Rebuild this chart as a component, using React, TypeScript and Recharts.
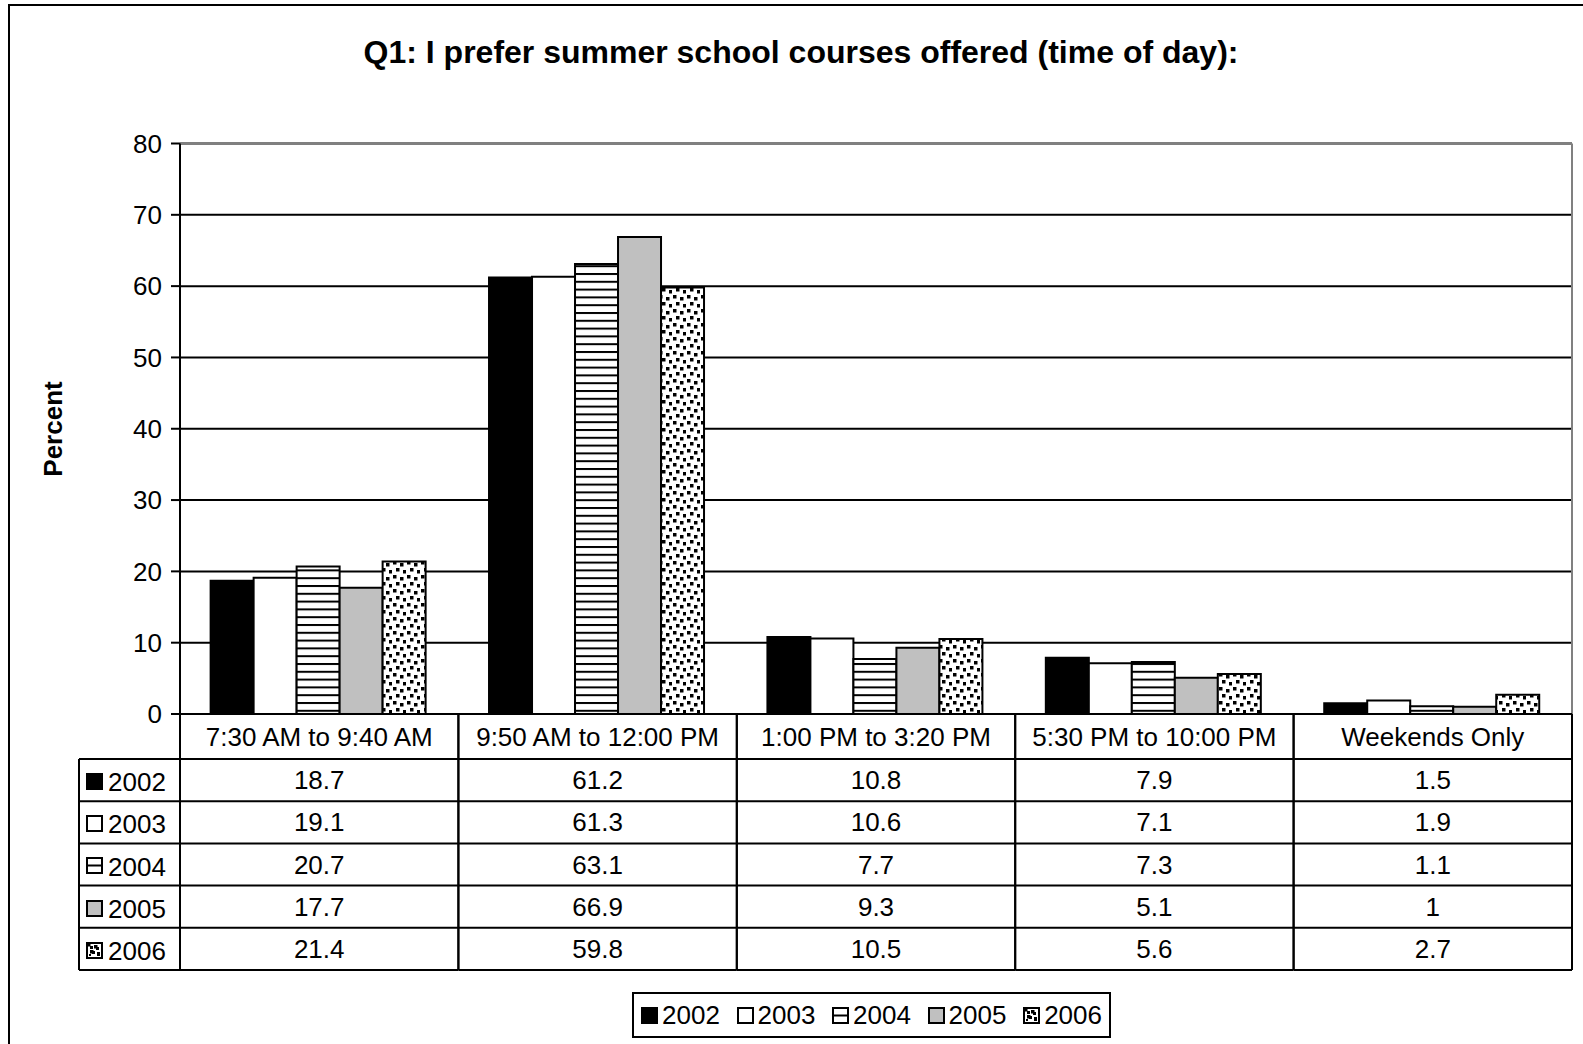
import { Bar, BarChart, CartesianGrid, Legend, XAxis, YAxis } from 'recharts'

const CATEGORIES = ['7:30 AM to 9:40 AM', '9:50 AM to 12:00 PM', '1:00 PM to 3:20 PM', '5:30 PM to 10:00 PM', 'Weekends Only']
const YEARS = ['2002', '2003', '2004', '2005', '2006']

const V2002 = [18.7, 61.2, 10.8, 7.9, 1.5]
const V2003 = [19.1, 61.3, 10.6, 7.1, 1.9]
const V2004 = [20.7, 63.1, 7.7, 7.3, 1.1]
const V2005 = [17.7, 66.9, 9.3, 5.1, 1]
const V2006 = [21.4, 59.8, 10.5, 5.6, 2.7]
const SERIES = [V2002, V2003, V2004, V2005, V2006]

const Y_TICKS = [0, 10, 20, 30, 40, 50, 60, 70, 80]

const FILLS = ['#000000', '#ffffff', 'url(#stripes)', '#c0c0c0', 'url(#dots)']

const data = CATEGORIES.map((cat, i) => {
  const row: Record<string, string | number> = { cat }
  YEARS.forEach((y, s) => { row[y] = SERIES[s][i] })
  return row
})

const FONT = '"Liberation Sans", Arial, sans-serif'
const W = 1583
const H = 1044
const HEADER_H = 45
const ROW_H = 42.2
const LABEL_COL_LEFT = 79

function Swatch({ idx, size = 17 }: { idx: number; size?: number }) {
  return (
    <svg width={size} height={size} style={{ display: 'block' }}>
      <rect x={1} y={1} width={size - 2} height={size - 2} fill={idx === 2 ? '#fff' : FILLS[idx]} stroke="#000" strokeWidth={2} />
      {idx === 2 && <line x1={1} x2={size - 1} y1={size / 2} y2={size / 2} stroke="#000" strokeWidth={2} />}
      {idx === 4 && (
        <g fill="#000">
          <rect x={4} y={4} width={3} height={3} />
          <rect x={10} y={5} width={3} height={3} />
          <rect x={6} y={9} width={3} height={3} />
          <rect x={11} y={11} width={3} height={3} />
          <rect x={3} y={12} width={2} height={2} />
        </g>
      )}
    </svg>
  )
}

function TableTick(props: any) {
  const { x, y, payload, width } = props
  const i = payload?.index ?? props.index ?? 0
  const band = (width || 1392) / CATEGORIES.length
  const x0 = x - band / 2
  const x1 = x + band / 2
  const top = y
  const rowsTop = top + HEADER_H
  const bottom = rowsTop + ROW_H * YEARS.length
  return (
    <g fontFamily={FONT} fontSize={26} fill="#000">
      <line x1={x0} x2={x0} y1={top} y2={bottom} stroke="#000" strokeWidth={2} />
      <line x1={x1} x2={x1} y1={top} y2={bottom} stroke="#000" strokeWidth={2} />
      {YEARS.map((_, s) => (
        <line key={s} x1={x0} x2={x1} y1={rowsTop + ROW_H * s} y2={rowsTop + ROW_H * s} stroke="#000" strokeWidth={2} />
      ))}
      <line x1={x0} x2={x1} y1={bottom} y2={bottom} stroke="#000" strokeWidth={2} />
      <text x={x} y={top + HEADER_H / 2 + 9} textAnchor="middle">{payload.value}</text>
      {SERIES.map((vals, s) => (
        <text key={s} x={x} y={rowsTop + ROW_H * s + ROW_H / 2 + 9} textAnchor="middle">{vals[i]}</text>
      ))}
      {i === 0 && (
        <g>
          <line x1={LABEL_COL_LEFT} x2={LABEL_COL_LEFT} y1={rowsTop} y2={bottom} stroke="#000" strokeWidth={2} />
          {YEARS.map((yr, s) => (
            <g key={yr}>
              <line x1={LABEL_COL_LEFT} x2={x0} y1={rowsTop + ROW_H * s} y2={rowsTop + ROW_H * s} stroke="#000" strokeWidth={2} />
              <foreignObject x={LABEL_COL_LEFT + 7} y={rowsTop + ROW_H * s + 14} width={17} height={17}>
                <Swatch idx={s} />
              </foreignObject>
              <text x={LABEL_COL_LEFT + 29} y={rowsTop + ROW_H * s + ROW_H / 2 + 11}>{yr}</text>
            </g>
          ))}
          <line x1={LABEL_COL_LEFT} x2={x0} y1={bottom} y2={bottom} stroke="#000" strokeWidth={2} />
        </g>
      )}
    </g>
  )
}

function LegendBox() {
  return (
    <div
      style={{
        border: '2px solid #000',
        boxSizing: 'border-box',
        height: 46,
        width: 479,
        display: 'flex',
        alignItems: 'center',
        justifyContent: 'space-between',
        padding: '0 7px',
        background: '#fff',
        fontFamily: FONT,
        fontSize: 26,
      }}
    >
      {YEARS.map((yr, s) => (
        <div key={yr} style={{ display: 'flex', alignItems: 'center', gap: 4 }}>
          <Swatch idx={s} />
          <span style={{ lineHeight: 1 }}>{yr}</span>
        </div>
      ))}
    </div>
  )
}

export default function App() {
  return (
    <div style={{ position: 'absolute', left: 0, top: 0, width: W, height: H, overflow: 'hidden', background: '#fff' }}>
      <div style={{ position: 'absolute', left: 8, top: 4, width: 1700, height: 1200, border: '2px solid #000' }} />
      <div
        style={{
          position: 'absolute', left: 0, top: 35, width: 1602, textAlign: 'center',
          fontFamily: FONT, fontWeight: 'bold', fontSize: 32, lineHeight: '35px',
        }}
      >
        Q1: I prefer summer school courses offered (time of day):
      </div>
      <div
        style={{
          position: 'absolute', left: 52.5, top: 429, transform: 'translate(-50%, -50%) rotate(-90deg)',
          fontFamily: FONT, fontWeight: 'bold', fontSize: 26, lineHeight: 1, whiteSpace: 'nowrap',
        }}
      >
        Percent
      </div>
      <div style={{ position: 'absolute', left: 0, top: 0 }}>
        <BarChart
          width={W}
          height={H}
          data={data}
          margin={{ top: 143.5, right: 11, left: 20, bottom: 6 }}
          barCategoryGap="11%"
          barGap={0}
        >
          <defs>
            <pattern id="stripes" width={8} height={7.8} patternUnits="userSpaceOnUse">
              <rect width={8} height={7.8} fill="#fff" />
              <rect y={0} width={8} height={2} fill="#000" />
            </pattern>
            <pattern id="dots" width={14} height={14} patternUnits="userSpaceOnUse">
              <rect width={14} height={14} fill="#fff" />
              <g fill="#000">
                <rect x={1} y={1} width={3.5} height={3.5} />
                <rect x={8} y={3} width={3.5} height={3.5} />
                <rect x={4} y={8} width={3.5} height={3.5} />
                <rect x={11} y={10} width={3} height={3.5} />
              </g>
            </pattern>
          </defs>
          <CartesianGrid vertical={false} stroke="#000" strokeWidth={2} />
          <CartesianGrid
            stroke="#808080"
            strokeWidth={2}
            horizontalCoordinatesGenerator={({ offset }: any) => [offset.top]}
            verticalCoordinatesGenerator={({ offset }: any) => [offset.left + offset.width]}
          />
          <XAxis
            dataKey="cat"
            height={278}
            interval={0}
            tickLine={false}
            tickSize={0}
            tickMargin={0}
            axisLine={{ stroke: '#000', strokeWidth: 2 }}
            tick={<TableTick />}
          />
          <YAxis
            width={160}
            domain={[0, 80]}
            ticks={Y_TICKS}
            interval={0}
            tickSize={9}
            tickMargin={9}
            axisLine={{ stroke: '#000', strokeWidth: 2 }}
            tickLine={{ stroke: '#000', strokeWidth: 2 }}
            tick={{ fill: '#000', fontSize: 26, fontFamily: FONT }}
          />
          {YEARS.map((yr, s) => (
            <Bar key={yr} dataKey={yr} fill={FILLS[s]} stroke="#000" strokeWidth={2} isAnimationActive={false} />
          ))}
          <Legend
            verticalAlign="bottom"
            content={() => <LegendBox />}
            wrapperStyle={{ left: 632, bottom: 6, width: 479, height: 46 }}
          />
        </BarChart>
      </div>
    </div>
  )
}
